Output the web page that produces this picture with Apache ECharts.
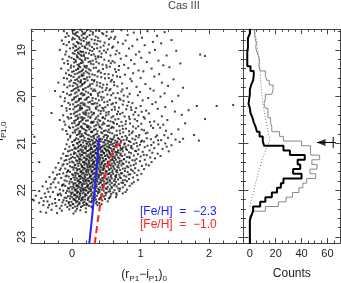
<!DOCTYPE html>
<html>
<head>
<meta charset="utf-8">
<script src="https://cdn.jsdelivr.net/npm/echarts@6/dist/echarts.min.js"></script>
<style>html,body{margin:0;padding:0;background:#fff}#c{width:341px;height:283px}</style>
</head>
<body>
<div id="c"></div>
<script>
// ---------- data ----------
const chartTitle = 'Cas III';
const xMajorTicks = [0, 1, 2];
const xMinorTicks = [-0.4, -0.2, 0.2, 0.4, 0.6, 0.8, 1.2, 1.4, 1.6, 1.8, 2.2, 2.4];
const magMajorTicks = [19, 20, 21, 22, 23];
const magMinorTicks = [18.6, 18.8, 19.2, 19.4, 19.6, 19.8, 20.2, 20.4, 20.6, 20.8, 21.2, 21.4, 21.6, 21.8, 22.2, 22.4, 22.6, 22.8];
const countMajorTicks = [0, 20, 40, 60];
const countMinorTicks = [5, 10, 15, 25, 30, 35, 45, 50, 55, 65];

// colour-magnitude points [ (r-i)0 , i0 ]
const starsUpper = [
[-0.12,18.6],[0.03,18.58],[0.08,18.62],[0.12,18.57],[0.19,18.63],[0.27,18.6],[0.35,18.59],[0.44,18.64],[0.58,18.61],[0.72,18.58],[0.9,18.63],[1.1,18.6],[1.35,18.62],[0.16,18.65],
[-0.05,18.7],[0.05,18.68],[0.1,18.73],[0.14,18.69],[0.22,18.72],[0.3,18.67],[0.38,18.74],[0.5,18.7],[0.63,18.72],[0.81,18.68],[1.02,18.74],[1.24,18.7],[0.01,18.74],[0.18,18.66],
[-0.15,18.8],[0.0,18.78],[0.07,18.83],[0.11,18.77],[0.17,18.81],[0.25,18.84],[0.33,18.79],[0.41,18.82],[0.54,18.77],[0.67,18.84],[0.78,18.8],[0.95,18.78],[1.18,18.83],[1.45,18.79],[0.2,18.76],[0.09,18.85],
[-0.08,18.9],[0.02,18.88],[0.06,18.93],[0.13,18.87],[0.15,18.92],[0.21,18.89],[0.29,18.94],[0.36,18.88],[0.46,18.91],[0.6,18.93],[0.74,18.87],[0.88,18.92],[1.06,18.9],[1.3,18.86],[0.11,18.95],[0.24,18.86],
[-0.18,19.0],[-0.03,18.97],[0.04,19.02],[0.09,18.98],[0.16,19.04],[0.19,18.96],[0.26,19.01],[0.32,18.98],[0.4,19.03],[0.52,18.99],[0.65,19.02],[0.83,18.97],[0.98,19.04],[1.21,19.0],[1.52,19.02],[0.12,19.03],
[-0.1,19.1],[0.01,19.07],[0.07,19.12],[0.1,19.08],[0.14,19.13],[0.2,19.06],[0.28,19.11],[0.34,19.14],[0.43,19.08],[0.56,19.12],[0.69,19.07],[0.79,19.13],[0.93,19.1],[1.13,19.06],[1.38,19.12],[1.87,19.1],[1.94,19.13],[0.17,19.1],
[-0.14,19.2],[-0.01,19.17],[0.05,19.22],[0.11,19.19],[0.15,19.24],[0.23,19.18],[0.3,19.23],[0.38,19.16],[0.47,19.21],[0.59,19.24],[0.71,19.19],[0.86,19.22],[1.01,19.17],[1.26,19.23],[0.08,19.16],[0.19,19.21],
[-0.06,19.3],[0.03,19.27],[0.08,19.32],[0.13,19.28],[0.18,19.34],[0.24,19.26],[0.31,19.31],[0.39,19.29],[0.5,19.33],[0.62,19.27],[0.76,19.32],[0.91,19.3],[1.09,19.26],[1.33,19.33],[1.58,19.29],[0.1,19.35],
[-0.16,19.4],[-0.02,19.38],[0.06,19.43],[0.12,19.37],[0.16,19.42],[0.21,19.39],[0.27,19.44],[0.35,19.38],[0.45,19.41],[0.55,19.36],[0.68,19.43],[0.82,19.39],[0.97,19.44],[1.16,19.4],[1.42,19.37],[0.09,19.4],
[-0.09,19.5],[0.0,19.47],[0.04,19.52],[0.1,19.48],[0.14,19.53],[0.2,19.46],[0.25,19.51],[0.33,19.54],[0.42,19.49],[0.53,19.52],[0.64,19.47],[0.77,19.53],[0.89,19.5],[1.04,19.46],[1.27,19.52],[0.17,19.5],
[-0.12,19.6],[0.02,19.58],[0.07,19.63],[0.11,19.57],[0.17,19.62],[0.22,19.59],[0.29,19.64],[0.37,19.57],[0.48,19.61],[0.58,19.64],[0.7,19.58],[0.85,19.62],[1.0,19.6],[1.2,19.57],[1.48,19.63],[0.13,19.65],
[-0.2,19.7],[-0.04,19.68],[0.05,19.72],[0.09,19.67],[0.15,19.73],[0.19,19.69],[0.26,19.74],[0.32,19.67],[0.41,19.71],[0.51,19.74],[0.61,19.69],[0.73,19.72],[0.87,19.67],[1.07,19.73],[1.31,19.7],[0.12,19.7],
[-0.07,19.8],[0.01,19.77],[0.06,19.82],[0.12,19.78],[0.16,19.84],[0.23,19.79],[0.28,19.83],[0.36,19.76],[0.44,19.81],[0.56,19.84],[0.66,19.78],[0.8,19.82],[0.94,19.79],[1.14,19.83],[1.4,19.77],[1.62,19.81],[0.09,19.85],
[-0.13,19.9],[-0.01,19.88],[0.04,19.93],[0.1,19.87],[0.14,19.92],[0.2,19.89],[0.27,19.94],[0.34,19.88],[0.4,19.91],[0.49,19.86],[0.6,19.93],[0.72,19.89],[0.84,19.94],[0.99,19.9],[1.19,19.87],[1.35,19.93],[0.17,19.95],
[-0.17,20.0],[-0.04,19.97],[0.03,20.02],[0.08,19.98],[0.13,20.04],[0.18,19.96],[0.24,20.01],[0.3,20.03],[0.38,19.98],[0.46,20.02],[0.57,19.97],[0.69,20.04],[0.81,20.0],[0.96,19.97],[1.11,20.03],[1.29,20.0],[1.55,19.98],[0.11,20.05]
];
const starsUpperFill = [
[0.005,18.585],[0.055,18.635],[0.145,18.605],[0.225,18.575],[0.305,18.625],[0.395,18.595],[0.505,18.615],[-0.075,18.645],
[-0.095,18.725],[0.025,18.655],[0.075,18.705],[0.165,18.745],[0.255,18.685],[0.345,18.715],[0.455,18.665],[0.565,18.735],
[-0.045,18.835],[0.035,18.765],[0.135,18.795],[0.215,18.845],[0.285,18.775],[0.375,18.805],[0.475,18.845],[0.615,18.765],
[-0.125,18.875],[0.045,18.915],[0.095,18.865],[0.185,18.935],[0.255,18.905],[0.325,18.865],[0.415,18.945],[0.535,18.885],
[-0.085,19.035],[0.015,18.955],[0.065,19.005],[0.135,19.045],[0.225,18.975],[0.295,19.025],[0.365,18.965],[0.465,19.015],[0.585,18.955],
[-0.045,19.145],[0.035,19.085],[0.085,19.055],[0.125,19.105],[0.175,19.135],[0.245,19.075],[0.315,19.095],[0.385,19.135],[0.495,19.055],[0.635,19.095],
[-0.065,19.235],[0.025,19.195],[0.075,19.155],[0.135,19.215],[0.195,19.175],[0.265,19.245],[0.345,19.195],[0.425,19.155],[0.535,19.235],
[-0.115,19.285],[-0.015,19.335],[0.055,19.255],[0.105,19.305],[0.155,19.275],[0.215,19.345],[0.275,19.295],[0.355,19.255],[0.445,19.315],[0.565,19.285],[0.685,19.345],
[-0.055,19.435],[0.025,19.355],[0.085,19.405],[0.145,19.445],[0.185,19.365],[0.245,19.415],[0.315,19.385],[0.395,19.445],[0.505,19.375],[0.625,19.415],
[-0.045,19.535],[0.025,19.455],[0.075,19.505],[0.125,19.465],[0.165,19.545],[0.225,19.485],[0.295,19.525],[0.375,19.465],[0.475,19.515],[0.595,19.545],
[-0.075,19.615],[-0.015,19.555],[0.045,19.645],[0.095,19.595],[0.145,19.555],[0.195,19.625],[0.255,19.575],[0.325,19.645],[0.425,19.585],[0.535,19.605],[0.655,19.565],
[-0.115,19.745],[-0.015,19.655],[0.025,19.705],[0.075,19.745],[0.125,19.685],[0.175,19.715],[0.225,19.655],[0.295,19.725],[0.365,19.695],[0.455,19.745],[0.565,19.675],
[-0.035,19.765],[0.035,19.835],[0.085,19.795],[0.145,19.755],[0.195,19.815],[0.255,19.775],[0.325,19.845],[0.405,19.785],[0.505,19.815],[0.615,19.755],[0.735,19.845],
[-0.075,19.935],[0.015,19.865],[0.065,19.905],[0.125,19.945],[0.165,19.855],[0.235,19.915],[0.305,19.875],[0.375,19.935],[0.445,19.895],[0.545,19.865],[0.665,19.925],
[-0.105,20.035],[-0.015,19.955],[0.055,20.005],[0.105,20.045],[0.155,19.975],[0.215,20.025],[0.275,19.965],[0.345,20.045],[0.425,20.005],[0.515,19.955],[0.635,20.025],[0.755,19.975],
[-0.055,20.135],[0.025,20.055],[0.075,20.105],[0.125,20.145],[0.185,20.065],[0.235,20.125],[0.295,20.085],[0.365,20.145],[0.435,20.065],[0.515,20.105],[0.595,20.145],[0.705,20.065],[0.825,20.115],
[-0.085,20.245],[0.015,20.165],[0.065,20.205],[0.115,20.245],[0.165,20.175],[0.225,20.215],[0.285,20.155],[0.345,20.235],[0.405,20.185],[0.485,20.225],[0.575,20.165],[0.685,20.235],[0.805,20.195],[0.935,20.245],
[-0.035,20.265],[0.045,20.335],[0.095,20.295],[0.145,20.255],[0.195,20.315],[0.255,20.275],[0.315,20.345],[0.385,20.295],[0.455,20.255],[0.535,20.325],[0.625,20.275],[0.735,20.345],[0.865,20.285],[1.015,20.325],
[-0.065,20.435],[0.025,20.365],[0.075,20.405],[0.125,20.445],[0.175,20.365],[0.235,20.425],[0.295,20.385],[0.355,20.445],[0.415,20.365],[0.495,20.405],[0.575,20.445],[0.655,20.375],[0.765,20.425],[0.895,20.385],[1.045,20.435],
[-0.115,20.535],[-0.015,20.455],[0.055,20.505],[0.105,20.545],[0.155,20.475],[0.205,20.515],[0.265,20.455],[0.315,20.535],[0.385,20.495],[0.445,20.455],[0.525,20.515],[0.595,20.545],[0.675,20.475],[0.785,20.525],[0.915,20.485],[1.135,20.545],
[-0.045,20.645],[0.035,20.565],[0.085,20.605],[0.125,20.645],[0.165,20.575],[0.215,20.615],[0.275,20.555],[0.325,20.635],[0.385,20.595],[0.455,20.555],[0.515,20.625],[0.585,20.645],[0.655,20.585],[0.735,20.625],[0.845,20.575],[0.965,20.635],[1.255,20.595],
[-0.085,20.735],[0.015,20.655],[0.065,20.705],[0.105,20.745],[0.145,20.675],[0.195,20.715],[0.235,20.655],[0.295,20.745],[0.345,20.695],[0.405,20.655],[0.465,20.735],[0.535,20.705],[0.605,20.665],[0.695,20.725],[0.785,20.685],[0.885,20.745],[1.015,20.705],[1.285,20.665],
[-0.025,20.835],[0.045,20.765],[0.095,20.805],[0.135,20.845],[0.185,20.775],[0.225,20.815],[0.275,20.755],[0.315,20.835],[0.365,20.795],[0.425,20.765],[0.475,20.825],[0.525,20.845],[0.585,20.785],[0.655,20.825],[0.745,20.765],[0.835,20.815],[0.935,20.845],[1.075,20.785],[1.345,20.825]
];
const starsMiddle = [
[-0.11,20.1],[0.0,20.07],[0.05,20.12],[0.1,20.08],[0.15,20.13],[0.21,20.06],[0.26,20.11],[0.33,20.14],[0.39,20.08],[0.47,20.12],[0.55,20.07],[0.64,20.13],[0.75,20.09],[0.88,20.14],[1.03,20.08],[1.22,20.12],[1.46,20.1],[0.18,20.15],
[-0.15,20.2],[-0.03,20.17],[0.04,20.22],[0.09,20.18],[0.14,20.24],[0.19,20.19],[0.25,20.23],[0.31,20.16],[0.37,20.21],[0.44,20.24],[0.52,20.18],[0.62,20.22],[0.74,20.17],[0.86,20.23],[1.0,20.2],[1.17,20.16],[1.36,20.22],[1.82,20.2],[2.11,20.2],[2.35,20.18],[0.12,20.2],
[-0.08,20.3],[0.02,20.27],[0.07,20.32],[0.12,20.28],[0.16,20.34],[0.22,20.29],[0.28,20.33],[0.35,20.26],[0.42,20.31],[0.5,20.34],[0.58,20.28],[0.67,20.32],[0.79,20.27],[0.92,20.33],[1.08,20.3],[1.25,20.26],[1.5,20.32],[1.7,20.29],[0.2,20.35],[0.46,20.3],
[-0.13,20.4],[-0.02,20.37],[0.05,20.42],[0.11,20.38],[0.15,20.44],[0.2,20.39],[0.27,20.43],[0.32,20.36],[0.38,20.41],[0.45,20.44],[0.53,20.38],[0.6,20.42],[0.7,20.37],[0.83,20.43],[0.97,20.4],[1.12,20.36],[1.31,20.42],[1.6,20.39],[0.09,20.45],[0.24,20.36],
[-0.18,20.5],[-0.05,20.47],[0.03,20.52],[0.08,20.48],[0.13,20.53],[0.18,20.46],[0.23,20.51],[0.29,20.54],[0.34,20.48],[0.41,20.52],[0.48,20.47],[0.56,20.53],[0.63,20.49],[0.72,20.54],[0.84,20.48],[0.95,20.52],[1.06,20.47],[1.2,20.53],[1.39,20.5],[1.94,20.48],[0.15,20.5],[0.37,20.55],
[-0.1,20.6],[0.0,20.57],[0.06,20.62],[0.1,20.58],[0.14,20.64],[0.19,20.59],[0.24,20.63],[0.3,20.56],[0.35,20.61],[0.4,20.64],[0.47,20.58],[0.54,20.62],[0.61,20.57],[0.69,20.63],[0.78,20.59],[0.89,20.64],[1.01,20.58],[1.15,20.62],[1.33,20.6],[1.65,20.57],[0.22,20.65],[0.44,20.6],
[-0.14,20.7],[-0.03,20.67],[0.04,20.72],[0.09,20.68],[0.12,20.74],[0.17,20.69],[0.21,20.73],[0.27,20.66],[0.32,20.71],[0.37,20.74],[0.43,20.68],[0.49,20.72],[0.57,20.67],[0.65,20.73],[0.74,20.69],[0.83,20.74],[0.93,20.68],[1.05,20.72],[1.18,20.67],[1.37,20.73],[1.55,20.7],[0.25,20.7],[0.52,20.75],
[-0.07,20.8],[0.01,20.77],[0.07,20.82],[0.11,20.78],[0.16,20.84],[0.2,20.79],[0.25,20.83],[0.29,20.76],[0.34,20.81],[0.39,20.84],[0.44,20.78],[0.5,20.82],[0.55,20.77],[0.62,20.83],[0.7,20.79],[0.78,20.84],[0.87,20.78],[0.98,20.82],[1.1,20.77],[1.24,20.83],[1.45,20.8],[1.78,20.82],[0.14,20.8],[0.31,20.85]
];
const starsBranch = [
[-0.03,20.87],[0.06,20.89],[0.12,20.86],[0.18,20.88],[0.23,20.9],[0.28,20.86],[0.32,20.89],[0.37,20.87],[0.41,20.9],[0.46,20.86],[0.51,20.88],[0.56,20.9],[0.61,20.87],[0.67,20.89],[0.73,20.86],[0.8,20.88],[0.88,20.9],[0.97,20.87],[1.09,20.89],[1.22,20.86],[1.4,20.88],[1.62,20.9],
[-0.06,20.92],[0.03,20.94],[0.09,20.91],[0.14,20.93],[0.2,20.95],[0.25,20.91],[0.3,20.94],[0.35,20.92],[0.39,20.95],[0.44,20.91],[0.48,20.93],[0.53,20.95],[0.58,20.92],[0.63,20.94],[0.69,20.91],[0.75,20.93],[0.83,20.95],[0.92,20.92],[1.02,20.94],[1.15,20.91],[1.3,20.93],[1.51,20.92],[1.85,20.94],
[0.0,20.97],[0.07,20.99],[0.11,20.96],[0.16,20.98],[0.21,21.0],[0.26,20.96],[0.31,20.99],[0.34,20.97],[0.38,21.0],[0.42,20.96],[0.47,20.98],[0.52,21.0],[0.57,20.97],[0.62,20.99],[0.66,20.96],[0.71,20.98],[0.77,21.0],[0.85,20.97],[0.94,20.99],[1.05,20.96],[1.19,20.98],[1.36,21.0],[1.57,20.97],
[-0.08,21.02],[0.02,21.04],[0.08,21.01],[0.13,21.03],[0.17,21.05],[0.22,21.01],[0.27,21.04],[0.3,21.02],[0.33,21.05],[0.37,21.01],[0.4,21.03],[0.45,21.05],[0.49,21.02],[0.54,21.04],[0.59,21.01],[0.64,21.03],[0.7,21.05],[0.76,21.02],[0.82,21.04],[0.9,21.01],[0.99,21.03],[1.1,21.05],[1.26,21.02],[1.45,21.04],
[-0.04,21.07],[0.04,21.09],[0.1,21.06],[0.15,21.08],[0.19,21.1],[0.24,21.06],[0.28,21.09],[0.32,21.07],[0.36,21.1],[0.39,21.06],[0.43,21.08],[0.47,21.1],[0.51,21.07],[0.55,21.09],[0.6,21.06],[0.65,21.08],[0.71,21.1],[0.78,21.07],[0.86,21.09],[0.95,21.06],[1.06,21.08],[1.2,21.1],[1.38,21.07],
[-0.1,21.12],[0.0,21.14],[0.06,21.11],[0.12,21.13],[0.16,21.15],[0.2,21.11],[0.25,21.14],[0.29,21.12],[0.33,21.15],[0.36,21.11],[0.41,21.13],[0.44,21.15],[0.48,21.12],[0.52,21.14],[0.57,21.11],[0.61,21.13],[0.67,21.15],[0.73,21.12],[0.8,21.14],[0.88,21.11],[0.97,21.13],[1.13,21.15],[1.32,21.12],[0.38,21.13],
[-0.06,21.17],[0.03,21.19],[0.09,21.16],[0.14,21.18],[0.18,21.2],[0.23,21.16],[0.27,21.19],[0.31,21.17],[0.34,21.2],[0.38,21.16],[0.42,21.18],[0.46,21.2],[0.5,21.17],[0.54,21.19],[0.58,21.16],[0.63,21.18],[0.68,21.2],[0.74,21.17],[0.83,21.19],[0.92,21.16],[1.03,21.18],[1.17,21.2],[1.41,21.17],
[-0.13,21.22],[-0.02,21.24],[0.05,21.21],[0.11,21.23],[0.15,21.25],[0.2,21.21],[0.24,21.24],[0.28,21.22],[0.32,21.25],[0.35,21.21],[0.39,21.23],[0.43,21.25],[0.47,21.22],[0.51,21.24],[0.55,21.21],[0.6,21.23],[0.65,21.25],[0.71,21.22],[0.77,21.24],[0.86,21.21],[0.96,21.23],[1.09,21.25],[1.25,21.22],
[-0.09,21.27],[0.01,21.29],[0.07,21.26],[0.12,21.28],[0.17,21.3],[0.21,21.26],[0.25,21.29],[0.29,21.27],[0.33,21.3],[0.37,21.26],[0.4,21.28],[0.44,21.3],[0.48,21.27],[0.53,21.29],[0.57,21.26],[0.62,21.28],[0.67,21.3],[0.73,21.27],[0.8,21.29],[0.9,21.26],[1.0,21.28],[1.14,21.3],[1.29,21.27],
[-0.16,21.32],[-0.04,21.34],[0.04,21.31],[0.1,21.33],[0.14,21.35],[0.18,21.31],[0.22,21.34],[0.26,21.32],[0.3,21.35],[0.34,21.31],[0.38,21.33],[0.41,21.35],[0.45,21.32],[0.49,21.34],[0.54,21.31],[0.59,21.33],[0.64,21.35],[0.69,21.32],[0.76,21.34],[0.84,21.31],[0.94,21.33],[1.06,21.35],[1.21,21.32],
[-0.11,21.37],[0.0,21.39],[0.06,21.36],[0.11,21.38],[0.16,21.4],[0.2,21.36],[0.24,21.39],[0.28,21.37],[0.31,21.4],[0.35,21.36],[0.39,21.38],[0.43,21.4],[0.47,21.37],[0.52,21.39],[0.56,21.36],[0.61,21.38],[0.66,21.4],[0.72,21.37],[0.79,21.39],[0.88,21.36],[0.99,21.38],[1.16,21.4],
[-0.2,21.42],[-0.07,21.44],[0.02,21.41],[0.08,21.43],[0.13,21.45],[0.17,21.41],[0.21,21.44],[0.25,21.42],[0.29,21.45],[0.32,21.41],[0.36,21.43],[0.4,21.45],[0.44,21.42],[0.48,21.44],[0.53,21.41],[0.58,21.43],[0.63,21.45],[0.69,21.42],[0.75,21.44],[0.83,21.41],[0.93,21.43],[1.08,21.45],
[-0.14,21.47],[-0.03,21.49],[0.04,21.46],[0.09,21.48],[0.14,21.5],[0.18,21.46],[0.22,21.49],[0.26,21.47],[0.3,21.5],[0.33,21.46],[0.37,21.48],[0.41,21.5],[0.46,21.47],[0.5,21.49],[0.55,21.46],[0.6,21.48],[0.66,21.5],[0.72,21.47],[0.8,21.49],[0.9,21.46],[1.02,21.48],[1.12,21.47]
];
const starsFaint = [
[-0.24,21.52],[-0.1,21.54],[0.0,21.51],[0.06,21.53],[0.11,21.55],[0.15,21.51],[0.19,21.54],[0.23,21.52],[0.27,21.55],[0.31,21.51],[0.35,21.53],[0.39,21.55],[0.43,21.52],[0.47,21.54],[0.52,21.51],[0.57,21.53],[0.62,21.55],[0.68,21.52],[0.74,21.54],[0.82,21.51],[0.92,21.53],[1.05,21.55],
[-0.18,21.57],[-0.06,21.59],[0.02,21.56],[0.07,21.58],[0.12,21.6],[0.16,21.56],[0.2,21.59],[0.24,21.57],[0.28,21.6],[0.32,21.56],[0.36,21.58],[0.4,21.6],[0.45,21.57],[0.49,21.59],[0.54,21.56],[0.59,21.58],[0.64,21.6],[0.7,21.57],[0.77,21.59],[0.86,21.56],[0.97,21.58],
[-0.28,21.62],[-0.13,21.64],[-0.03,21.61],[0.04,21.63],[0.09,21.65],[0.13,21.61],[0.17,21.64],[0.21,21.62],[0.25,21.65],[0.29,21.61],[0.33,21.63],[0.37,21.65],[0.41,21.62],[0.46,21.64],[0.5,21.61],[0.55,21.63],[0.6,21.65],[0.66,21.62],[0.73,21.64],[0.81,21.61],[0.91,21.63],[1.01,21.65],
[-0.22,21.67],[-0.08,21.69],[0.0,21.66],[0.05,21.68],[0.1,21.7],[0.14,21.66],[0.18,21.69],[0.22,21.67],[0.26,21.7],[0.3,21.66],[0.34,21.68],[0.38,21.7],[0.42,21.67],[0.47,21.69],[0.52,21.66],[0.57,21.68],[0.63,21.7],[0.69,21.67],[0.76,21.69],[0.85,21.66],[0.95,21.68],
[-0.33,21.72],[-0.16,21.74],[-0.05,21.71],[0.02,21.73],[0.07,21.75],[0.11,21.71],[0.15,21.74],[0.19,21.72],[0.23,21.75],[0.27,21.71],[0.31,21.73],[0.35,21.75],[0.39,21.72],[0.44,21.74],[0.48,21.71],[0.53,21.73],[0.58,21.75],[0.64,21.72],[0.71,21.74],[0.79,21.71],[0.89,21.73],
[-0.26,21.77],[-0.11,21.79],[-0.02,21.76],[0.04,21.78],[0.08,21.8],[0.12,21.76],[0.16,21.79],[0.2,21.77],[0.24,21.8],[0.28,21.76],[0.32,21.78],[0.36,21.8],[0.41,21.77],[0.45,21.79],[0.5,21.76],[0.55,21.78],[0.61,21.8],[0.67,21.77],[0.74,21.79],[0.83,21.76],[0.96,21.78],
[-0.38,21.82],[-0.2,21.84],[-0.08,21.81],[0.0,21.83],[0.05,21.85],[0.09,21.81],[0.13,21.84],[0.17,21.82],[0.21,21.85],[0.25,21.81],[0.29,21.83],[0.33,21.85],[0.37,21.82],[0.42,21.84],[0.47,21.81],[0.52,21.83],[0.58,21.85],[0.64,21.82],[0.72,21.84],[0.8,21.81],[0.9,21.83],
[-0.31,21.87],[-0.14,21.89],[-0.04,21.86],[0.02,21.88],[0.06,21.9],[0.1,21.86],[0.14,21.89],[0.18,21.87],[0.22,21.9],[0.26,21.86],[0.3,21.88],[0.34,21.9],[0.39,21.87],[0.44,21.89],[0.49,21.86],[0.55,21.88],[0.61,21.9],[0.68,21.87],[0.77,21.89],[0.87,21.86],
[-0.43,21.92],[-0.24,21.94],[-0.1,21.91],[-0.02,21.93],[0.03,21.95],[0.07,21.91],[0.11,21.94],[0.15,21.92],[0.19,21.95],[0.23,21.91],[0.27,21.93],[0.31,21.95],[0.36,21.92],[0.41,21.94],[0.46,21.91],[0.52,21.93],[0.58,21.95],[0.65,21.92],[0.74,21.94],[0.84,21.91],
[-0.36,21.97],[-0.18,21.99],[-0.06,21.96],[0.0,21.98],[0.04,22.0],[0.08,21.96],[0.12,21.99],[0.16,21.97],[0.2,22.0],[0.24,21.96],[0.28,21.98],[0.33,22.0],[0.38,21.97],[0.43,21.99],[0.49,21.96],[0.55,21.98],[0.62,22.0],[0.7,21.97],[0.8,21.99],
[-0.48,22.02],[-0.28,22.04],[-0.13,22.01],[-0.04,22.03],[0.01,22.05],[0.05,22.01],[0.09,22.04],[0.13,22.02],[0.17,22.05],[0.21,22.01],[0.25,22.03],[0.3,22.05],[0.35,22.02],[0.4,22.04],[0.46,22.01],[0.53,22.03],[0.6,22.05],[0.69,22.02],[0.78,22.04],
[-0.4,22.07],[-0.21,22.09],[-0.09,22.06],[-0.01,22.08],[0.03,22.1],[0.07,22.06],[0.11,22.09],[0.15,22.07],[0.19,22.1],[0.23,22.06],[0.28,22.08],[0.33,22.1],[0.38,22.07],[0.44,22.09],[0.5,22.06],[0.57,22.08],[0.65,22.1],[0.74,22.07],
[-0.53,22.12],[-0.32,22.14],[-0.16,22.11],[-0.06,22.13],[0.0,22.15],[0.04,22.11],[0.08,22.14],[0.12,22.12],[0.16,22.15],[0.21,22.11],[0.26,22.13],[0.31,22.15],[0.36,22.12],[0.42,22.14],[0.49,22.11],[0.56,22.13],[0.64,22.15],
[-0.45,22.17],[-0.25,22.19],[-0.11,22.16],[-0.03,22.18],[0.02,22.2],[0.06,22.16],[0.1,22.19],[0.14,22.17],[0.19,22.2],[0.24,22.16],[0.29,22.18],[0.35,22.2],[0.41,22.17],[0.48,22.19],[0.55,22.16],
[-0.56,22.22],[-0.36,22.24],[-0.19,22.21],[-0.08,22.23],[-0.01,22.25],[0.04,22.21],[0.08,22.24],[0.13,22.22],[0.18,22.25],[0.23,22.21],[0.29,22.23],[0.36,22.25],[0.44,22.22],[0.52,22.24],
[-0.48,22.27],[-0.29,22.29],[-0.14,22.26],[-0.05,22.28],[0.01,22.3],[0.06,22.26],[0.11,22.29],[0.16,22.27],[0.22,22.3],[0.28,22.26],[0.35,22.28],[0.43,22.3],
[-0.42,22.32],[-0.23,22.34],[-0.1,22.31],[-0.02,22.33],[0.04,22.35],[0.09,22.31],[0.15,22.34],[0.21,22.32],[0.28,22.35],[0.37,22.32],
[-0.35,22.37],[-0.18,22.39],[-0.07,22.36],[0.01,22.38],[0.07,22.4],[0.13,22.36],[0.2,22.39],[0.29,22.37],
[-0.46,22.46],[-0.3,22.42],[-0.15,22.44],[-0.04,22.41],[0.05,22.45],[0.12,22.43],[0.2,22.47],[-0.22,22.49],[0.02,22.5],[-0.38,22.48]
];
const starsCoreFill = [
[0.045,20.925],[0.105,20.975],[0.175,20.935],[0.235,20.965],[0.285,20.925],[0.325,20.985],[0.365,20.945],[0.405,20.915],[0.455,20.975],[0.505,20.935],[0.545,20.965],[0.595,20.915],[0.655,20.985],[0.715,20.945],[0.795,20.925],[1.005,20.965],[1.255,20.935],
[0.015,21.035],[0.085,21.085],[0.125,21.045],[0.205,21.065],[0.255,21.015],[0.275,21.095],[0.345,21.055],[0.385,21.025],[0.425,21.075],[0.475,21.045],[0.535,21.085],[0.565,21.025],[0.625,21.065],[0.685,21.035],[0.745,21.085],[0.865,21.055],[1.155,21.035],
[-0.035,21.155],[0.035,21.115],[0.095,21.175],[0.135,21.135],[0.195,21.105],[0.215,21.165],[0.265,21.125],[0.305,21.185],[0.345,21.145],[0.405,21.105],[0.445,21.175],[0.495,21.135],[0.535,21.165],[0.605,21.125],[0.655,21.185],[0.705,21.145],[0.785,21.115],[0.935,21.165],
[-0.065,21.265],[0.025,21.225],[0.085,21.285],[0.135,21.245],[0.165,21.205],[0.225,21.275],[0.265,21.235],[0.305,21.265],[0.355,21.215],[0.385,21.285],[0.425,21.245],[0.465,21.205],[0.515,21.265],[0.555,21.235],[0.595,21.285],[0.645,21.215],[0.705,21.255],[0.835,21.285],[1.045,21.245],
[-0.085,21.355],[-0.015,21.315],[0.075,21.375],[0.115,21.335],[0.175,21.395],[0.205,21.325],[0.245,21.365],[0.285,21.305],[0.325,21.385],[0.365,21.345],[0.405,21.315],[0.455,21.375],[0.495,21.335],[0.545,21.395],[0.585,21.355],[0.625,21.315],[0.695,21.375],[0.755,21.335],[0.915,21.365],
[-0.125,21.445],[-0.035,21.405],[0.045,21.465],[0.105,21.425],[0.145,21.485],[0.195,21.415],[0.235,21.455],[0.275,21.495],[0.305,21.435],[0.345,21.475],[0.395,21.415],[0.425,21.455],[0.465,21.495],[0.515,21.435],[0.565,21.475],[0.615,21.415],[0.675,21.465],[0.735,21.425],[0.855,21.475],
[-0.165,21.535],[-0.055,21.575],[0.025,21.515],[0.085,21.555],[0.135,21.595],[0.175,21.525],[0.215,21.565],[0.255,21.505],[0.295,21.585],[0.335,21.545],[0.375,21.515],[0.415,21.575],[0.455,21.535],[0.505,21.595],[0.545,21.555],[0.605,21.515],[0.655,21.575],[0.775,21.535],[0.885,21.585],
[-0.185,21.655],[-0.075,21.615],[0.015,21.675],[0.065,21.635],[0.115,21.695],[0.155,21.625],[0.195,21.665],[0.235,21.605],[0.275,21.685],[0.315,21.645],[0.355,21.615],[0.395,21.675],[0.435,21.635],[0.485,21.695],[0.535,21.655],[0.585,21.615],[0.645,21.675],[0.715,21.635],[0.825,21.665],
[-0.245,21.745],[-0.095,21.705],[-0.015,21.765],[0.045,21.725],[0.095,21.785],[0.135,21.715],[0.175,21.755],[0.215,21.795],[0.255,21.735],[0.295,21.775],[0.335,21.715],[0.375,21.755],[0.425,21.795],[0.465,21.735],[0.515,21.775],[0.565,21.715],[0.625,21.765],[0.695,21.725],[0.775,21.785],
[-0.275,21.835],[-0.125,21.875],[-0.035,21.815],[0.025,21.855],[0.075,21.895],[0.115,21.825],[0.155,21.865],[0.195,21.805],[0.235,21.885],[0.275,21.845],[0.315,21.815],[0.355,21.875],[0.405,21.835],[0.455,21.895],[0.505,21.855],[0.555,21.815],[0.625,21.875],[0.745,21.845],
[-0.315,21.945],[-0.145,21.905],[-0.045,21.965],[0.015,21.925],[0.055,21.985],[0.095,21.915],[0.135,21.955],[0.175,21.995],[0.215,21.935],[0.255,21.975],[0.295,21.915],[0.345,21.955],[0.395,21.995],[0.445,21.935],[0.505,21.975],[0.575,21.925],[0.675,21.965],
[-0.345,22.035],[-0.175,22.075],[-0.075,22.015],[-0.015,22.055],[0.035,22.095],[0.075,22.025],[0.115,22.065],[0.155,22.005],[0.195,22.085],[0.235,22.045],[0.275,22.015],[0.325,22.075],[0.375,22.035],[0.425,22.095],[0.485,22.055],[0.555,22.025],[0.645,22.065],
[-0.385,22.145],[-0.205,22.105],[-0.085,22.165],[-0.025,22.125],[0.025,22.185],[0.065,22.115],[0.105,22.155],[0.145,22.195],[0.185,22.135],[0.235,22.175],[0.285,22.115],[0.335,22.155],[0.395,22.195],[0.465,22.135],[0.535,22.175],
[-0.415,22.235],[-0.245,22.275],[-0.125,22.215],[-0.045,22.255],[0.015,22.295],[0.055,22.225],[0.105,22.265],[0.155,22.205],[0.205,22.285],[0.255,22.245],[0.325,22.215],[0.395,22.275],[-0.335,22.315],[-0.155,22.335],[-0.035,22.325],[0.075,22.345],[0.175,22.315],[0.245,22.335]
];
const starsStray = [[-0.55,20.86],[-0.3,20.35],[-0.25,19.88],[-0.48,21.4],[-0.58,22.2]];

// isochrones [ (r-i)0 , i0 ]
const isoMetalPoor = [[0.25,23.15],[0.29,22.6],[0.33,22.0],[0.36,21.5],[0.39,20.93],[0.40,20.88]];
const isoMetalRich = [[0.33,23.15],[0.37,22.7],[0.41,22.3],[0.45,22.0],[0.49,21.65],[0.53,21.45],[0.57,21.28],[0.61,21.12],[0.65,21.05],[0.69,21.01],[0.74,20.99]];
const isoNames = ['[Fe/H]  =  \u22122.3', '[Fe/H]  =  \u22121.0'];

// luminosity function, bins of 0.1 mag starting at 18.55
const histBinStart = 18.55;
const histBinWidth = 0.1;
const countsCleaned = [0,-1.5,-1.5,-1.5,-2,-2,-2,-2,0.5,3,2.5,1,0,0,-0.5,-1,0,0.5,2,3,4.5,5.5,7.5,10,11,26,31,42.5,37,39,33.5,40,26,24,21,17,12,8,2.5,1,0,0,0,0,0,0];
const countsRaw = [3.5,4,5,4.5,5.5,7,7.5,7,8,12,13,15,18,17,12,11,12,14,14,16,17,17,23,26,40,47,47,54,48,52,46.5,51,44,41,38,33,28,22,12,2,0,0,0,0,0,0];
const bgCounts = [3.9,5,6.5,7.8,8.5,9.5,11,13,14.5,15.5,13,10.3,8.5,6.5,4.5,2.6,0.5,0];
const bgMags = [18.57,18.8,19.1,19.4,19.7,20.0,20.3,20.6,20.8,20.93,21.1,21.28,21.45,21.64,21.85,22.07,22.28,22.4];
// TRGB marker
const trgbMag = 20.98, trgbErr = 0.12, trgbArrow = [52, 66.5], trgbBarCount = 64.5;

// ---------- build ----------
const AX = '#444';
const FONT = '"Liberation Sans", Arial, Helvetica, sans-serif';
const MAG_MIN = 18.56, MAG_MAX = 23.13;

function stepPath(counts) {
  const pts = [];
  counts.forEach((c, i) => {
    pts.push([c, histBinStart + i * histBinWidth]);
    pts.push([c, histBinStart + (i + 1) * histBinWidth]);
  });
  return pts;
}

function axisPair(gridIndex, position, min, max, majorVals, minorVals, extra) {
  extra = extra || {};
  const base = { type: 'value', gridIndex, position, min, max, inverse: !!extra.inverse, splitLine: {show: false}, silent: true };
  const major = Object.assign({}, base, {
    axisLine: {show: true, onZero: false, lineStyle: {color: AX, width: 1}},
    axisTick: {show: true, inside: true, length: 5, customValues: majorVals, lineStyle: {color: AX, width: 1}},
    axisLabel: extra.label ? Object.assign({show: true, customValues: majorVals, color: '#222', fontSize: 11, fontFamily: FONT}, extra.label) : {show: false}
  }, extra.name || {});
  const minor = Object.assign({}, base, {
    axisLine: {show: false, onZero: false},
    axisTick: {show: true, inside: true, length: 2.5, customValues: minorVals, lineStyle: {color: AX, width: 1}},
    axisLabel: {show: false}
  });
  return [major, minor];
}

const richSub = {
  n: {fontSize: 12, lineHeight: 16, fontFamily: FONT, color: '#222', verticalAlign: 'middle'},
  s: {fontSize: 8, lineHeight: 8, fontFamily: FONT, color: '#222', verticalAlign: 'bottom'}
};

const xAxes = [].concat(
  axisPair(0, 'bottom', -0.6, 2.5, xMajorTicks, xMinorTicks, {
    label: {margin: 5},
    name: {name: '{n|(r}{s|P1}{n|\u2212i}{s|P1}{n|)}{s|0}', nameLocation: 'middle', nameGap: 24, nameTextStyle: {rich: richSub, padding: [0, 0, 0, 14]}}
  }),
  axisPair(0, 'top', -0.6, 2.5, xMajorTicks, xMinorTicks),
  axisPair(1, 'bottom', -5, 70, countMajorTicks, countMinorTicks, {
    label: {margin: 5},
    name: {name: 'Counts', nameLocation: 'middle', nameGap: 25, nameTextStyle: {fontSize: 12, fontFamily: FONT, color: '#222'}}
  }),
  axisPair(1, 'top', -5, 70, countMajorTicks, countMinorTicks)
);
const yAxes = [].concat(
  axisPair(0, 'left', MAG_MIN, MAG_MAX, magMajorTicks, magMinorTicks, {
    inverse: true,
    label: {rotate: 90, margin: 4},
    name: {name: '{n|i}{s|P1,0}', nameLocation: 'middle', nameGap: 14, nameRotate: 90, nameTextStyle: {rich: richSub, padding: [0, 0, 0, 10]}}
  }),
  axisPair(0, 'right', MAG_MIN, MAG_MAX, magMajorTicks, magMinorTicks, {inverse: true}),
  axisPair(1, 'left', MAG_MIN, MAG_MAX, magMajorTicks, magMinorTicks, {inverse: true}),
  axisPair(1, 'right', MAG_MIN, MAG_MAX, magMajorTicks, magMinorTicks, {inverse: true})
);

const option = {
  animation: false,
  backgroundColor: '#fff',
  textStyle: {fontFamily: FONT},
  title: {text: chartTitle, left: 168, top: 0, padding: 0, textStyle: {fontSize: 11, fontWeight: 'normal', color: '#444', fontFamily: FONT}},
  legend: {
    orient: 'vertical', left: 130, top: 201, itemGap: 1, itemWidth: 0, itemHeight: 0, selectedMode: false,
    textStyle: {fontSize: 12, fontFamily: FONT},
    data: [
      {name: isoNames[0], icon: 'none', textStyle: {color: '#2222ff'}},
      {name: isoNames[1], icon: 'none', textStyle: {color: '#ff2222'}}
    ]
  },
  grid: [
    {left: 31, top: 29.3, width: 212.4, height: 213.7, containLabel: false, outerBoundsMode: 'none'},
    {left: 243.4, top: 29.3, width: 96.9, height: 213.7, containLabel: false, outerBoundsMode: 'none'}
  ],
  xAxis: xAxes,
  yAxis: yAxes,
  series: [
    {type: 'scatter', xAxisIndex: 0, yAxisIndex: 0, symbol: 'rect', symbolSize: 2, silent: true,
     itemStyle: {color: '#111'},
     data: [].concat(starsUpper, starsUpperFill, starsMiddle, starsBranch, starsFaint, starsCoreFill, starsStray)},
    {type: 'line', name: isoNames[0], xAxisIndex: 0, yAxisIndex: 0, showSymbol: false, symbol: 'none', silent: true,
     lineStyle: {color: '#2222ff', width: 2}, itemStyle: {color: '#2222ff'}, data: isoMetalPoor, z: 5},
    {type: 'line', name: isoNames[1], xAxisIndex: 0, yAxisIndex: 0, showSymbol: false, symbol: 'none', silent: true,
     lineStyle: {color: '#ff2222', width: 2, type: [7, 4]}, itemStyle: {color: '#ff2222'}, data: isoMetalRich, z: 5},
    {type: 'line', xAxisIndex: 4, yAxisIndex: 4, symbol: 'none', silent: true,
     lineStyle: {color: '#888', width: 1}, data: stepPath(countsRaw)},
    {type: 'line', xAxisIndex: 4, yAxisIndex: 4, symbol: 'none', silent: true,
     lineStyle: {color: '#777', width: 1, type: [1, 2]}, data: bgCounts.map((c, i) => [c, bgMags[i]])},
    {type: 'line', xAxisIndex: 4, yAxisIndex: 4, symbol: 'none', silent: true,
     lineStyle: {color: '#000', width: 2}, data: stepPath(countsCleaned), z: 4},
    {type: 'line', xAxisIndex: 4, yAxisIndex: 4, symbol: 'none', silent: true,
     lineStyle: {color: '#000', width: 1}, data: [[trgbArrow[0], trgbMag], [trgbArrow[1], trgbMag]]},
    {type: 'line', xAxisIndex: 4, yAxisIndex: 4, symbol: 'none', silent: true,
     lineStyle: {color: '#000', width: 1}, data: [[trgbBarCount, trgbMag - trgbErr], [trgbBarCount, trgbMag + trgbErr]]},
    {type: 'scatter', xAxisIndex: 4, yAxisIndex: 4, silent: true,
     symbol: 'path://M0,5 L10,0 L10,10 Z', symbolSize: [9, 7], symbolOffset: [4, 0],
     itemStyle: {color: '#000'}, data: [[trgbArrow[0], trgbMag]]}
  ]
};

const chart = echarts.init(document.getElementById('c'), null, {renderer: 'canvas'});
chart.setOption(option);
</script>
</body>
</html>
